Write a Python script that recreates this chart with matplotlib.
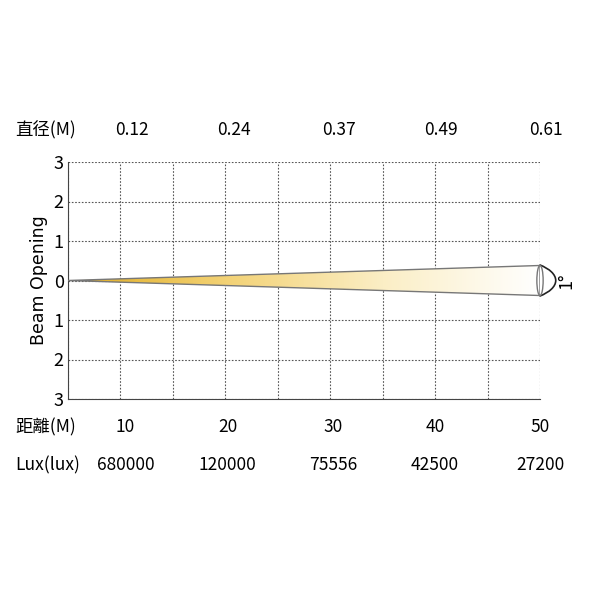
import numpy as np
import matplotlib.pyplot as plt
from matplotlib.patches import Polygon, Ellipse, Arc
from matplotlib.colors import LinearSegmentedColormap

plt.rcParams['font.family'] = ['Noto Sans CJK SC', 'DejaVu Sans']

diameter = ['0.12', '0.24', '0.37', '0.49', '0.61']
distance = ['10', '20', '30', '40', '50']
lux = ['680000', '120000', '75556', '42500', '27200']
label_cols = [1.1, 3.05, 5.05, 7.0, 9.0]
y_ticks = [-3, -2, -1, 0, 1, 2, 3]
y_labels = ['3', '2', '1', '0', '1', '2', '3']
beam_end = 9.0
beam_half = 0.38

fig = plt.figure(figsize=(6, 6), dpi=100)
ax = fig.add_axes([0.113, 0.335, 0.787, 0.395])
ax.set_xlim(0, 9)
ax.set_ylim(-3, 3)
ax.set_xticks(range(10))
ax.set_yticks(y_ticks)
ax.set_yticklabels(y_labels, fontsize=13)
ax.tick_params(axis='x', labelbottom=False, length=0)
ax.tick_params(axis='y', length=0, pad=3)
ax.grid(True, linestyle=(0, (1.5, 1.5)), color='#555555', linewidth=0.8)
for s in ['top', 'right']:
    ax.spines[s].set_visible(False)
for s in ['left', 'bottom']:
    ax.spines[s].set_color('#444444')
ax.set_ylabel('Beam Opening', fontsize=12.5, family='DejaVu Sans')

# beam gradient
grad = np.linspace(0, 1, 256).reshape(1, -1)
cmap = LinearSegmentedColormap.from_list('beam', ['#e0ac20', '#f3d275', '#fbeec5', '#ffffff'])
img = ax.imshow(grad, extent=[0, beam_end, -beam_half, beam_half], aspect='auto',
                cmap=cmap, zorder=3)
poly = Polygon([[0, 0], [beam_end, beam_half], [beam_end, -beam_half]], closed=True,
               facecolor='none', edgecolor='#777777', linewidth=1.0, zorder=4)
ax.add_patch(poly)
img.set_clip_path(poly)
ax.add_patch(Ellipse((beam_end, 0), 0.12, 2 * beam_half, facecolor='none',
                     edgecolor='#777777', linewidth=1.0, zorder=5, clip_on=False))
ax.add_patch(Arc((beam_end - 0.7, 0), 2.0, 1.1, theta1=-30, theta2=30,
                 color='#222222', linewidth=1.2, clip_on=False))
ax.text(beam_end + 0.5, 0, '1°', rotation=90, va='center', ha='center',
        fontsize=13, clip_on=False)

fs = 12.5
fig.text(0.025, 0.783, '直径(M)', fontsize=fs, va='center')
fig.text(0.025, 0.288, '距離(M)', fontsize=fs, va='center')
fig.text(0.025, 0.225, 'Lux(lux)', fontsize=fs, va='center')
for c, d, di, lx in zip(label_cols, diameter, distance, lux):
    xf = 0.113 + 0.787 * c / 9
    fig.text(xf + 0.01, 0.783, d, fontsize=fs, ha='center', va='center')
    fig.text(xf, 0.288, di, fontsize=fs, ha='center', va='center')
    fig.text(xf, 0.225, lx, fontsize=fs, ha='center', va='center')

fig.savefig('out.png')
